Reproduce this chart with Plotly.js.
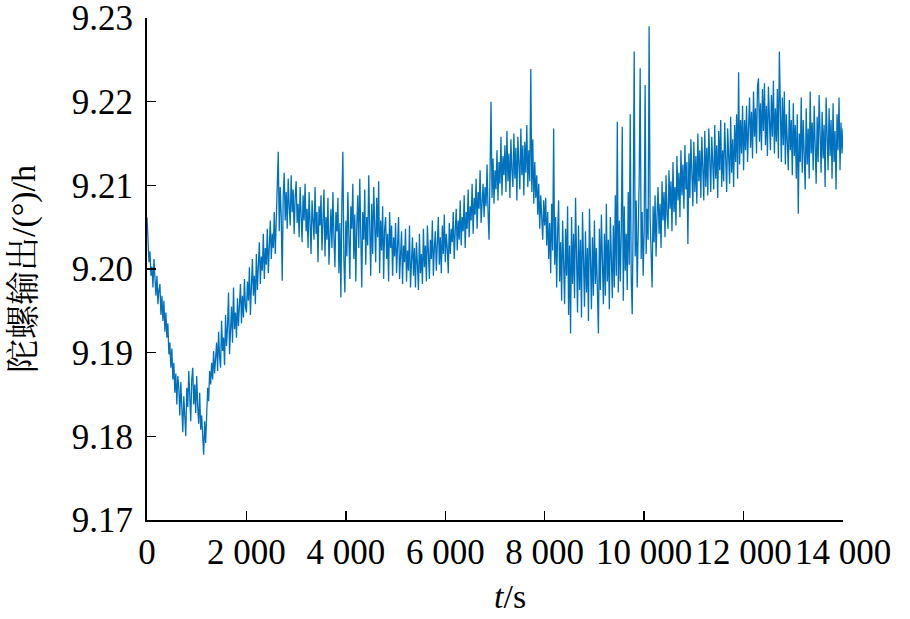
<!DOCTYPE html>
<html>
<head>
<meta charset="utf-8">
<script src="https://cdn.plot.ly/plotly-3.0.1.min.js"></script>
<style>html,body{margin:0;padding:0;background:#fff;}#chart{width:910px;height:619px;}</style>
</head>
<body>
<div id="chart"></div>
<script>
// Sampling step of the readout (s)
const sampleStep = 20;

// Gyro output (°/h), in 2000 s segments
const seg0to2000 = [
9.2062, 9.2038, 9.2008, 9.2021, 9.1992, 9.2003, 9.1978, 9.2012, 9.1985, 9.1968,
9.1992, 9.1958, 9.1975, 9.1982, 9.1945, 9.1968, 9.1938, 9.1962, 9.1925, 9.1948,
9.1918, 9.1935, 9.1898, 9.1912, 9.1882, 9.1905, 9.1868, 9.1888, 9.1852, 9.1875,
9.1838, 9.1872, 9.1858, 9.1825, 9.1865, 9.1842, 9.1805, 9.1848, 9.1822, 9.1800,
9.1858, 9.1835, 9.1878, 9.1842, 9.1818, 9.1868, 9.1882, 9.1838, 9.1862, 9.1828,
9.1872, 9.1835, 9.1815, 9.1852, 9.1808, 9.1825, 9.1795, 9.1778, 9.1818, 9.1792,
9.1825, 9.1858, 9.1842, 9.1878, 9.1862, 9.1888, 9.1868, 9.1902, 9.1875, 9.1892,
9.1912, 9.1878, 9.1925, 9.1895, 9.1882, 9.1938, 9.1902, 9.1918, 9.1885, 9.1945,
9.1908, 9.1932, 9.1972, 9.1898, 9.1925, 9.1955, 9.1912, 9.1978, 9.1928, 9.1948,
9.1918, 9.1965, 9.1932, 9.1958, 9.1982, 9.1935, 9.1968, 9.1942, 9.1988, 9.1955
];
const seg2000to4000 = [
9.1948, 9.1985, 9.1962, 9.2002, 9.1945, 9.1978, 9.2012, 9.1968, 9.1992, 9.1958,
9.2018, 9.1975, 9.2002, 9.2032, 9.1982, 9.2015, 9.1998, 9.2042, 9.1988, 9.2025,
9.2005, 9.2048, 9.1995, 9.2035, 9.2058, 9.2012, 9.2042, 9.2025, 9.2068, 9.2018,
9.2055, 9.2082, 9.2140, 9.2045, 9.2098, 9.2062, 9.1986, 9.2088, 9.2115, 9.2058,
9.2092, 9.2048, 9.2108, 9.2075, 9.2052, 9.2112, 9.2068, 9.2095, 9.2042, 9.2085,
9.2105, 9.2055, 9.2078, 9.2038, 9.2098, 9.2065, 9.2032, 9.2088, 9.2058, 9.2102,
9.2045, 9.2072, 9.2025, 9.2092, 9.2055, 9.2018, 9.2082, 9.2062, 9.2035, 9.2098,
9.2042, 9.2068, 9.2008, 9.2075, 9.2052, 9.2088, 9.2022, 9.2058, 9.2095, 9.2015,
9.2062, 9.2035, 9.2085, 9.2005, 9.2048, 9.2072, 9.2025, 9.2092, 9.2038, 9.2002,
9.2068, 9.2045, 9.2085, 9.1995, 9.2055, 9.1966, 9.2078, 9.2140, 9.2012, 9.1972
];
const seg4000to6000 = [
9.2058, 9.2015, 9.2092, 9.2038, 9.1988, 9.2075, 9.2048, 9.2102, 9.2012, 9.2065,
9.1985, 9.2052, 9.2088, 9.2025, 9.2108, 9.2042, 9.1978, 9.2068, 9.2035, 9.2095,
9.2005, 9.2062, 9.2028, 9.2112, 9.2045, 9.1992, 9.2078, 9.2018, 9.2098, 9.2052,
9.2008, 9.2085, 9.2038, 9.2105, 9.1995, 9.2058, 9.2022, 9.2075, 9.1988, 9.2048,
9.2062, 9.2012, 9.2042, 9.1985, 9.2068, 9.2025, 9.2052, 9.1992, 9.2038, 9.2015,
9.2055, 9.1995, 9.2032, 9.2062, 9.1988, 9.2018, 9.2045, 9.1982, 9.2028, 9.2008,
9.2048, 9.1985, 9.2022, 9.1998, 9.2052, 9.1978, 9.2015, 9.2038, 9.1992, 9.2025,
9.1978, 9.2032, 9.2005, 9.1975, 9.2042, 9.1995, 9.2018, 9.1982, 9.2048, 9.2002,
9.2028, 9.1985, 9.2052, 9.2008, 9.1988, 9.2035, 9.2012, 9.2058, 9.1992, 9.2025,
9.2045, 9.1998, 9.2032, 9.2062, 9.2005, 9.2038, 9.1995, 9.2052, 9.2018, 9.2065
];
const seg6000to8000 = [
9.2008, 9.2042, 9.2025, 9.1995, 9.2055, 9.2018, 9.2048, 9.2032, 9.2068, 9.2012,
9.2045, 9.2072, 9.2022, 9.2058, 9.2035, 9.2082, 9.2028, 9.2062, 9.2045, 9.2088,
9.2025, 9.2068, 9.2048, 9.2095, 9.2038, 9.2075, 9.2058, 9.2102, 9.2042, 9.2085,
9.2065, 9.2108, 9.2048, 9.2092, 9.2072, 9.2118, 9.2055, 9.2085, 9.2102, 9.2062,
9.2098, 9.2075, 9.2125, 9.2068, 9.2035, 9.2112, 9.2200, 9.2085, 9.2132, 9.2078,
9.2118, 9.2095, 9.2142, 9.2082, 9.2128, 9.2102, 9.2158, 9.2088, 9.2135, 9.2112,
9.2148, 9.2092, 9.2165, 9.2105, 9.2138, 9.2085, 9.2155, 9.2118, 9.2098, 9.2162,
9.2108, 9.2145, 9.2082, 9.2158, 9.2122, 9.2095, 9.2168, 9.2112, 9.2148, 9.2088,
9.2152, 9.2115, 9.2172, 9.2098, 9.2142, 9.2105, 9.2239, 9.2092, 9.2155, 9.2078,
9.2128, 9.2085, 9.2112, 9.2065, 9.2102, 9.2048, 9.2088, 9.2058, 9.2035, 9.2082
];
const seg8000to10000 = [
9.2052, 9.2085, 9.2028, 9.2068, 9.2012, 9.2055, 9.1995, 9.2078, 9.2022, 9.2168,
9.2005, 9.2062, 9.1978, 9.2045, 9.2082, 9.1985, 9.2032, 9.1962, 9.2058, 9.2008,
9.1958, 9.2048, 9.1992, 9.2075, 9.1945, 9.2028, 9.1923, 9.2062, 9.1982, 9.2042,
9.1965, 9.2085, 9.1998, 9.1948, 9.2052, 9.1975, 9.2035, 9.1942, 9.2068, 9.1988,
9.1955, 9.2045, 9.1972, 9.2025, 9.1938, 9.2072, 9.1992, 9.1952, 9.2038, 9.1968,
9.2058, 9.1982, 9.2025, 9.1945, 9.1923, 9.2048, 9.1975, 9.2065, 9.1995, 9.1958,
9.2042, 9.1968, 9.2078, 9.1985, 9.2035, 9.1952, 9.2062, 9.1998, 9.1965, 9.2052,
9.1978, 9.2088, 9.1992, 9.2176, 9.1972, 9.2058, 9.1985, 9.2045, 9.2170, 9.1962,
9.2075, 9.1998, 9.2042, 9.1975, 9.2092, 9.2005, 9.2185, 9.1988, 9.1946, 9.2065,
9.2260, 9.2015, 9.2082, 9.1978, 9.2048, 9.2105, 9.2240, 9.2012, 9.2068, 9.1992
];
const seg10000to12000 = [
9.2045, 9.2220, 9.2018, 9.2072, 9.2035, 9.2290, 9.2062, 9.2028, 9.1978, 9.2075,
9.2032, 9.2088, 9.2015, 9.2065, 9.2098, 9.2042, 9.2078, 9.2025, 9.2105, 9.2058,
9.2092, 9.2038, 9.2112, 9.2065, 9.2048, 9.2118, 9.2072, 9.2105, 9.2045, 9.2128,
9.2068, 9.2098, 9.2052, 9.2135, 9.2082, 9.2115, 9.2062, 9.2142, 9.2088, 9.2125,
9.2072, 9.2148, 9.2095, 9.2128, 9.2030, 9.2138, 9.2085, 9.2155, 9.2102, 9.2075,
9.2152, 9.2092, 9.2135, 9.2078, 9.2162, 9.2105, 9.2142, 9.2085, 9.2158, 9.2112,
9.2082, 9.2165, 9.2098, 9.2145, 9.2088, 9.2168, 9.2115, 9.2092, 9.2158, 9.2125,
9.2095, 9.2172, 9.2108, 9.2148, 9.2085, 9.2165, 9.2118, 9.2178, 9.2098, 9.2142,
9.2105, 9.2175, 9.2122, 9.2092, 9.2168, 9.2135, 9.2102, 9.2182, 9.2115, 9.2155,
9.2098, 9.2172, 9.2128, 9.2185, 9.2108, 9.2235, 9.2125, 9.2178, 9.2138, 9.2195
];
const seg12000to14000 = [
9.2118, 9.2178, 9.2142, 9.2195, 9.2128, 9.2168, 9.2205, 9.2145, 9.2188, 9.2132,
9.2212, 9.2158, 9.2192, 9.2138, 9.2218, 9.2228, 9.2152, 9.2198, 9.2142, 9.2215,
9.2165, 9.2222, 9.2148, 9.2195, 9.2135, 9.2218, 9.2172, 9.2142, 9.2208, 9.2158,
9.2225, 9.2138, 9.2192, 9.2152, 9.2215, 9.2132, 9.2260, 9.2165, 9.2128, 9.2205,
9.2148, 9.2212, 9.2125, 9.2185, 9.2158, 9.2118, 9.2202, 9.2142, 9.2178, 9.2112,
9.2198, 9.2135, 9.2172, 9.2108, 9.2185, 9.2066, 9.2162, 9.2128, 9.2205, 9.2115,
9.2178, 9.2142, 9.2095, 9.2192, 9.2125, 9.2168, 9.2108, 9.2212, 9.2138, 9.2175,
9.2118, 9.2195, 9.2145, 9.2102, 9.2182, 9.2128, 9.2208, 9.2152, 9.2115, 9.2188,
9.2132, 9.2172, 9.2098, 9.2205, 9.2142, 9.2118, 9.2192, 9.2135, 9.2178, 9.2108,
9.2198, 9.2128, 9.2165, 9.2095, 9.2185, 9.2142, 9.2205, 9.2118, 9.2175, 9.2138,
9.2168
];

// Axis ticks
const xTickVals = [0, 2000, 4000, 6000, 8000, 10000, 12000, 14000];
const xTickText = ['0', '2 000', '4 000', '6 000', '8 000', '10 000', '12 000', '14 000'];
const yTickVals = [9.17, 9.18, 9.19, 9.20, 9.21, 9.22, 9.23];
const yTickText = ['9.17', '9.18', '9.19', '9.20', '9.21', '9.22', '9.23'];

const yValues = [].concat(seg0to2000, seg2000to4000, seg4000to6000, seg6000to8000,
  seg8000to10000, seg10000to12000, seg12000to14000);
const tValues = yValues.map((_, i) => i * sampleStep);

const serif = "'Liberation Serif', 'Times New Roman', 'Noto Serif CJK SC', 'Noto Sans CJK SC', serif";

const trace = {
  x: tValues, y: yValues, type: 'scatter', mode: 'lines',
  line: {color: '#0072BD', width: 1.3},
  hoverinfo: 'x+y'
};

const layout = {
  width: 910, height: 619,
  margin: {l: 147, r: 67, t: 18, b: 99},
  paper_bgcolor: '#ffffff', plot_bgcolor: '#ffffff',
  showlegend: false,
  font: {family: serif, color: '#000', size: 35},
  xaxis: {
    range: [0, 14000], tickmode: 'array', tickvals: xTickVals, ticktext: xTickText,
    ticks: 'inside', ticklen: 9, tickwidth: 1.5, tickcolor: '#000', tickangle: 0,
    showline: true, linecolor: '#000', linewidth: 2,
    showgrid: false, zeroline: false,
    tickfont: {family: serif, size: 35, color: '#000'}
  },
  yaxis: {
    range: [9.17, 9.23], tickmode: 'array', tickvals: yTickVals, ticktext: yTickText,
    ticks: 'inside', ticklen: 9, tickwidth: 1.5, tickcolor: '#000', tickangle: 0,
    showline: true, linecolor: '#000', linewidth: 2,
    showgrid: false, zeroline: false, ticklabelstandoff: 5,
    tickfont: {family: serif, size: 35, color: '#000'},
    title: {text: '陀螺输出/(°)/h', font: {family: serif, size: 34, color: '#000'}, standoff: 26}
  },
  annotations: [{
    text: '<i>t</i>/s', xref: 'paper', yref: 'paper', x: 0.5216, y: -0.153,
    xanchor: 'center', yanchor: 'middle', showarrow: false,
    font: {family: serif, size: 34, color: '#000'}
  }]
};

Plotly.newPlot('chart', [trace], layout, {staticPlot: true, displayModeBar: false});
</script>
</body>
</html>
